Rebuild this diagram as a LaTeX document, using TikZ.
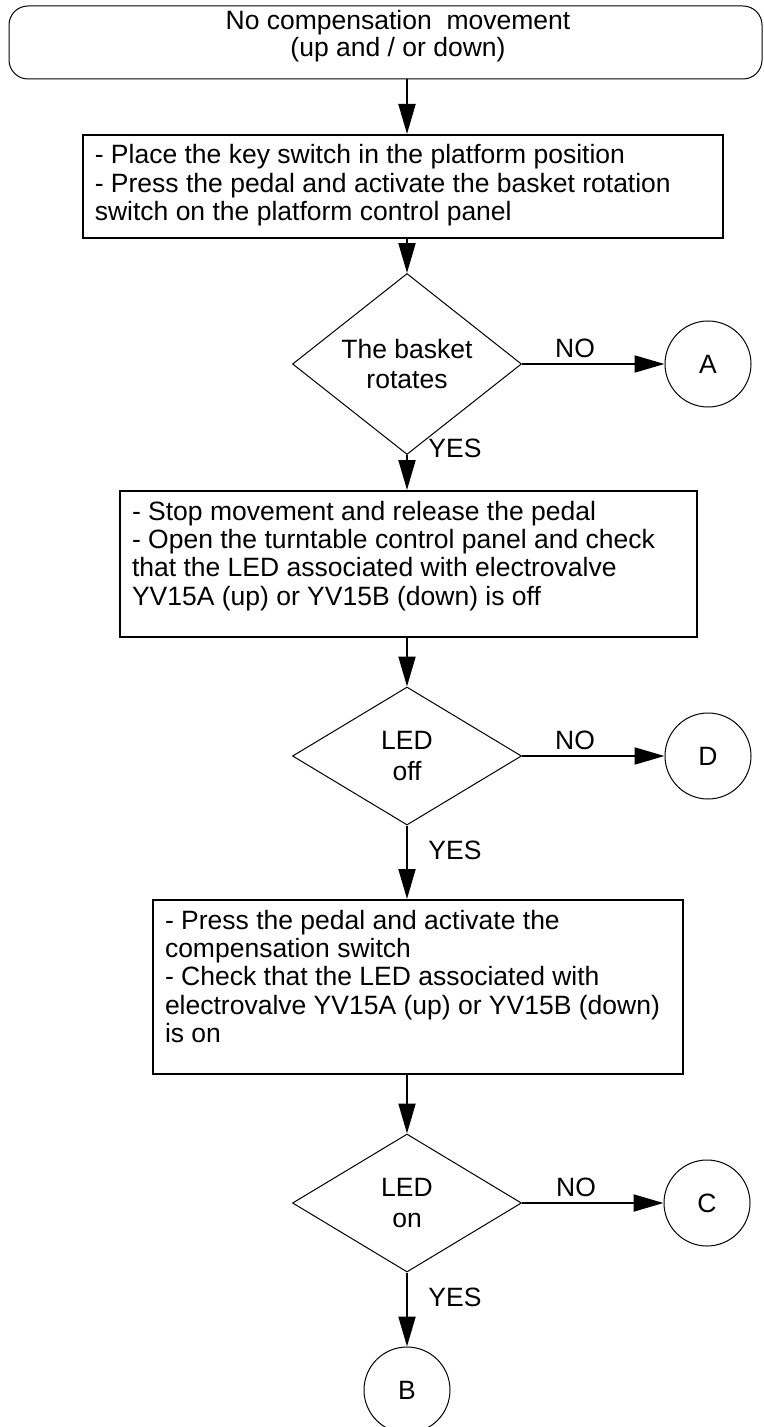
\documentclass[tikz,border=0pt]{standalone}
\usepackage{fontspec}
\setmainfont{Liberation Sans}
\usetikzlibrary{shapes.geometric,arrows.meta}
\newcommand\steptext[3]{\parbox[c][#1][t]{#2}{\raggedright\rule{0pt}{14.5pt}#3}}
\begin{document}
\begin{tikzpicture}[x=0.5pt,y=-0.5pt,
  every node/.style={font=\fontsize{13.25pt}{14.2pt}\selectfont},
  terminal/.style={draw,line width=0.5pt,rounded corners=9.5pt,minimum width=376.5pt,minimum height=36.5pt,inner sep=0pt},
  termlabel/.style={align=center,inner sep=0pt,font=\fontsize{13.25pt}{13.5pt}\selectfont},
  stepbox/.style={draw,line width=1pt,inner xsep=6pt,inner ysep=0pt},
  decision/.style={draw,diamond,line width=0.5pt,inner sep=0pt,minimum width=114.5pt,minimum height=69pt,align=center,font=\fontsize{13.25pt}{15.2pt}\selectfont},
  connector/.style={draw,circle,line width=0.5pt,minimum size=43pt,inner sep=0pt},
  arr/.style={line width=1pt,-{Triangle[length=15pt,width=8.5pt]}},
  lbl/.style={inner sep=0pt}]
\useasboundingbox (0,0) rectangle (764,1427);

\node[terminal] (term) at (385.5,42.5) {};
\node[termlabel] (termtext) at (398,36.5) {No compensation\ \ movement\\(up and / or down)};

\node[stepbox] (box1) at (402.8,186.5)
  {\steptext{51.5pt}{308pt}{- Place the key switch in the platform position\\- Press the pedal and activate the basket rotation\\switch on the platform control panel}};

\node[decision] (d1) at (407,364) {The basket\\rotates};
\node[connector] (A) at (708,364) {A};

\node[stepbox] (box2) at (408.5,564)
  {\steptext{73pt}{276.5pt}{- Stop movement and release the pedal\\- Open the turntable control panel and check\\that the LED associated with electrovalve\\YV15A (up) or YV15B (down) is off}};

\node[decision] (d2) at (407,756) {LED\\off};
\node[connector] (D) at (708,756) {D};

\node[stepbox] (box3) at (418,987)
  {\steptext{87pt}{253pt}{- Press the pedal and activate the\\compensation switch\\- Check that the LED associated with\\electrovalve YV15A (up) or YV15B (down)\\is on}};

\node[decision] (d3) at (407,1203) {LED\\on};
\node[connector] (C) at (707,1203) {C};

\node[connector] (B) at (407,1390) {B};

\node[lbl] (no1) at (575,348) {NO};
\node[lbl] (no2) at (575,740) {NO};
\node[lbl] (no3) at (576,1187) {NO};
\node[lbl] (yes1) at (455,448) {YES};
\node[lbl] (yes2) at (455,850) {YES};
\node[lbl] (yes3) at (455,1297) {YES};

\draw[arr] (term.south -| d1.center) -- (box1.north -| d1.center);
\draw[arr] (box1.south -| d1.center) -- (d1.north);
\draw[arr] (d1.east) -- (A.west);
\draw[arr] (d1.south) -- (box2.north -| d1.center);
\draw[arr] (box2.south -| d1.center) -- (d2.north);
\draw[arr] (d2.east) -- (D.west);
\draw[arr] (d2.south) -- (box3.north -| d2.center);
\draw[arr] (box3.south -| d2.center) -- (d3.north);
\draw[arr] (d3.east) -- (C.west);
\draw[arr] (d3.south) -- (B.north);
\end{tikzpicture}
\end{document}
